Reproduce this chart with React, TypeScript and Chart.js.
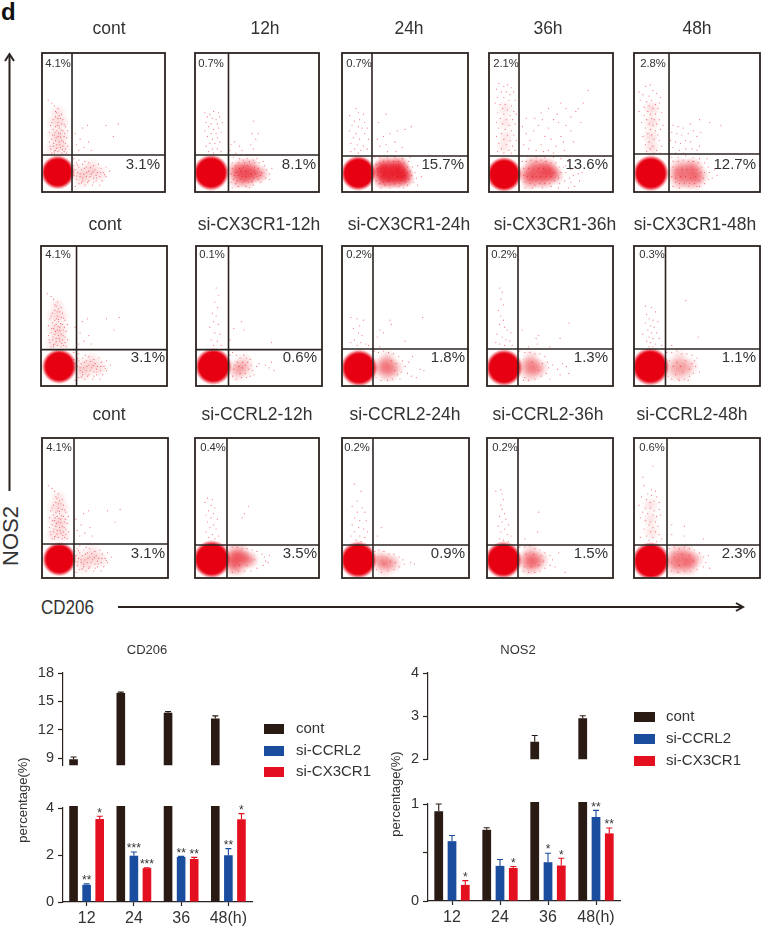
import React, { useEffect, useRef } from "react";
import { Chart, registerables } from "chart.js";
Chart.register(...registerables);

/* ---------- flow panels: values are in percent of each plot's axis range ---------- */
const TITLES = [
  ["cont", "12h", "24h", "36h", "48h"],
  ["cont", "si-CX3CR1-12h", "si-CX3CR1-24h", "si-CX3CR1-36h", "si-CX3CR1-48h"],
  ["cont", "si-CCRL2-12h", "si-CCRL2-24h", "si-CCRL2-36h", "si-CCRL2-48h"],
];
const NOS2_PCT = [
  ["4.1%", "0.7%", "0.7%", "2.1%", "2.8%"],
  ["4.1%", "0.1%", "0.2%", "0.2%", "0.3%"],
  ["4.1%", "0.4%", "0.2%", "0.2%", "0.6%"],
];
const CD206_PCT = [
  ["3.1%", "8.1%", "15.7%", "13.6%", "12.7%"],
  ["3.1%", "0.6%", "1.8%", "1.3%", "1.1%"],
  ["3.1%", "3.5%", "0.9%", "1.5%", "2.3%"],
];
const GATE_X = [
  [24.4, 27, 23.8, 24.2, 27.8],
  [28.2, 25.8, 24.6, 24.6, 25],
  [25.4, 25.8, 24.4, 24.6, 26.2],
];
const GATE_Y = [
  [26.6, 26.6, 25.9, 25.9, 27.3],
  [26, 26, 26.4, 26.4, 26.4],
  [24.3, 23.6, 23.6, 23.6, 23.6],
];
const CORE_X = [
  [12.8, 12.9, 12.9, 12.1, 13.3],
  [14.5, 13.7, 13.5, 13.5, 12.9],
  [13.7, 13.5, 12.8, 12.9, 13.3],
];
const CORE_Y = [
  [14.2, 13.9, 13.5, 12.7, 13.5],
  [14, 14, 12.9, 13.1, 13.8],
  [13.4, 13.4, 12.9, 12.9, 12.1],
];

const CONT_DOTS = [5,66,8,64,10,62,13,60,12,57,14,55,11,54,15,53,9,52,17,52,13,50,16,49,7,48,11,47,19,47,14,46,9,45,12,44,17,44,21,44,6,43,15,42,10,41,13,40,18,40,20,39,8,38,11,37,16,37,14,36,6,36,19,35,12,34,9,33,17,33,21,33,15,32,7,31,11,30,13,29,18,29,10,28,20,28,16,28,8,28,27,42,33,46,37,48,31,38,38,36,28,34,34,32,30,30,52,48,62,49,58,40,40,30,26,24,30,23,35,22,28,21,33,20,38,21,26,19,30,18,36,18,42,19,46,20,27,16,32,16,38,15,43,16,48,17,52,18,29,14,34,13,40,13,45,14,50,14,55,15,26,12,31,11,36,11,42,10,47,11,52,11,28,9,33,8,38,8,44,8,49,8,30,6,35,5,41,5,27,4,47,5,12.5,48,15.5,44.5,10.5,43,13.5,42.5,18.5,42,11.5,39,15,39.5,8.5,41,14.5,34,17.5,36,12,31.5,9.5,35,19,31,16.5,30.5,6.5,33,10,29.5,14,47.5,8,50,18,48.5,16,56,13,53,11,58,29,19.5,34.5,17,39.5,17.5,44,12,31,13,36.5,14,41.5,14.5,47.5,14,28,11.5,33,10,39,11,44.5,10,51,12.5,37,7,42,7,32,6.5];
const CONT_LOW = [30,14,38,13,46,13,33,9,40,18];
const CONT_UP = [10,50,16,50,10,41,16,41,14,36,9,31,17,31,13,57];

const H12_DOTS = [8,57,12,56,15,58,19,57,10,54,14,53,17,52,20,54,9,50,13,49,18,49,22,50,11,47,15,45,19,46,8,44,13,42,17,42,21,43,10,40,14,38,18,39,12,35,16,35,20,36,9,33,14,31,18,31,11,29,15,28,21,29,32,36,36,33,33,28,38,30,45,34,47,31,49,38,47,51,46,42,51,42,28,30,29,34,27,24,31,25,36,24,42,24,47,23,52,21,56,19,58,16,60,13,57,10,53,7,47,5,41,4,35,4,30,3,55,22,50,24,44,3,60,9,62,17,54,14,48,18,30,21,40,21,33,6,38,7,46,8,51,9,30,17,33,19,36,17,39,18,42,19,45,16,48,15,51,17,53,12,50,11,47,10,44,11,41,11,38,11,35,12,32,12,29,13,31,9,34,8,37,9,40,8,43,7,46,7,29,7,33,14,37,15,41,15,45,13,49,13,35,21,39,23,44,22,48,21];
const H12_LOW = [32,15,37,14,42,13,47,13,52,13,35,9,42,9,38,18,45,18];
const H24_DOTS = [6,55,11,60,13,57,17,56,14,52,10,51,18,50,8,48,13,47,16,46,20,46,6,44,11,42,18,42,9,39,14,38,21,38,7,35,12,34,17,33,10,31,15,30,20,31,7,29,13,28,29,50,35,56,28,38,33,40,38,42,44,44,50,45,55,47,30,33,35,34,42,36,48,32,36,29,43,29,26,25,30,25,36,25,42,25,48,24,53,22,56,18,58,14,59,10,57,7,52,5,45,4,38,3,31,3,60,19,63,11,54,25,60,5,49,3,27,20,30,21,33,22,37,22,41,22,45,22,49,21,52,18,54,15,55,12,53,9,50,7,46,6,42,6,38,5,34,5,30,6,27,8,28,12,31,11,33,12,36,11,40,12,44,11,47,11,50,12,52,14,49,16,45,17,42,16,38,16,35,17,31,17,28,17,41,8,37,8,33,7,47,8];
const H24_LOW = [29,15,34,14,39,14,44,14,49,14,32,9,38,9,44,9,33,19,40,19,46,19,50,10];
const H36_DOTS = [8,78,12,76,15,77,18,75,6,74,10,72,14,72,17,70,20,72,7,68,12,68,16,66,21,66,5,64,9,63,13,63,18,62,11,60,15,59,20,58,7,57,12,56,17,55,22,56,9,53,14,52,19,52,6,50,11,49,16,48,21,49,8,46,13,45,18,44,10,42,15,41,20,41,6,40,12,38,17,37,22,37,8,35,14,34,19,33,10,31,16,30,21,30,7,29,12,28,18,28,27,47,30,42,33,37,36,44,28,34,32,31,38,30,42,34,45,40,40,48,48,46,52,52,56,50,43,52,37,53,58,40,60,36,54,33,48,30,62,48,66,54,70,58,62,60,66,44,72,60,76,64,80,73,55,56,48,60,42,57,58,64,68,36,50,38,44,29,52,28,61,30,30,53,74,50,26,26,31,26,38,25,45,25,52,25,58,24,64,22,60,18,62,14,61,8,57,6,50,4,43,3,35,3,29,3,66,16,68,12,66,7,70,18,72,13,69,4,73,8,56,3,64,3,75,14,27,22,30,22,34,23,38,22,42,23,46,22,50,21,54,21,57,18,58,14,56,10,53,8,49,6,45,6,41,6,37,5,33,6,29,7,28,12,31,11,35,11,38,11,42,11,46,11,50,11,53,14,49,16,44,17,40,17,36,16,32,17,28,17,65,10,62,19,68,17];
const H36_LOW = [30,13,35,13,40,14,45,14,50,14,33,8,40,9,46,9,35,19,42,19,48,18,53,12];
const H36_UP = [13,60,13,50,14,40,12,33];
const H48_DOTS = [4,72,9,76,13,77,15,73,7,70,12,69,18,71,21,68,5,66,10,65,14,66,17,63,20,64,12,62,8,61,15,60,19,60,4,58,11,58,13,56,17,56,22,57,8,55,14,53,10,52,16,52,20,52,6,50,12,49,15,48,18,49,23,48,9,46,13,45,17,44,21,45,11,42,14,41,19,41,7,40,16,38,12,36,20,37,9,34,15,33,22,33,13,31,18,30,10,29,16,28,21,28,31,48,35,47,39,46,30,43,34,42,38,41,43,42,47,44,29,37,33,36,37,35,41,37,45,36,50,40,53,43,45,49,52,52,60,50,69,48,31,32,36,30,41,31,46,31,50,30,33,28,39,28,52,33,30,25,35,25,41,26,47,25,52,24,56,21,59,18,60,14,59,9,56,6,50,4,43,4,36,3,31,4,64,16,62,10,66,12,58,24,52,4,31,22,35,22,39,23,43,22,47,22,51,21,54,18,56,14,55,10,52,8,48,6,44,6,40,6,36,6,33,7,30,11,33,10,37,11,41,11,45,10,49,11,53,14,50,16,46,16,42,16,38,16,34,16,31,18];
const H48_LOW = [33,13,38,13,43,13,48,13,52,12,36,18,43,18,48,18,36,8,43,8,49,8];
const H48_UP = [14,60,14,50,13,40,14,32];

const X12_DOTS = [16,70,18,65,15,60,17,56,13,52,16,50,14,46,18,44,11,42,15,38,19,37,12,33,17,32,14,29,20,29,36,46,38,40,30,41,60,31,27,33,27,22,29,24,32,22,35,20,38,22,40,20,43,19,44,15,45,11,43,7,40,6,36,6,32,5,29,7,34,14,37,13,39,15,42,12,31,15,35,9,39,9,50,16,55,15,58,13,60,17,62,11,46,8,48,14,33,17,30,12,41,17,37,17];
const X12_LOW = [31,13,35,13,39,12,33,9,38,17];
const X24_DOTS = [7,49,12,48,17,47,14,43,9,41,13,38,16,36,10,33,15,31,19,30,12,29,21,29,7,31,28,35,30,40,33,38,38,47,39,44,64,49,50,32,30,28,26,25,29,24,33,25,37,24,41,23,45,21,48,18,50,14,47,10,44,8,40,5,36,4,31,4,27,6,52,9,55,7,59,6,62,12,65,11,53,17,46,5,56,21,43,16,39,18,42,11];
const X24_LOW = [30,14,34,15,38,14,42,13,33,10,38,9,36,19];
const X36_DOTS = [10,70,12,67,11,62,13,58,9,54,11,50,13,47,10,44,14,42,16,40,19,38,8,37,12,35,15,33,18,32,10,30,14,29,20,29,7,31,28,40,39,34,41,36,65,45,58,34,50,28,33,28,40,30,26,25,30,24,34,24,38,23,42,23,46,21,48,17,49,13,47,9,43,7,38,5,33,4,29,4,52,15,56,12,58,8,60,16,63,14,30,6,41,11,36,17,44,16,50,5,65,9];
const X36_LOW = [30,14,34,15,38,14,42,13,33,9,38,10,35,19];
const X48_DOTS = [9,57,14,56,17,53,10,51,12,48,15,47,19,46,9,45,13,43,16,42,11,40,14,38,18,38,7,37,12,35,15,34,20,34,10,32,13,31,17,30,12,28,15,28,22,29,41,61,51,35,30,29,26,24,30,24,34,25,38,23,42,23,46,22,48,18,49,14,47,9,44,7,40,5,35,5,30,5,27,7,52,10,50,20,43,4,36,4,33,8,39,10,44,12,34,17,41,18,31,14,37,14,46,16,28,18];
const X48_LOW = [30,14,35,14,40,14,44,14,33,9,39,9,36,19];

const C12_DOTS = [10,57,14,56,8,54,13,52,16,50,11,48,15,46,9,45,13,43,18,42,10,40,15,38,12,36,17,35,9,33,14,31,19,30,11,29,16,28,43,51,40,46,38,43,26,23,30,22,34,22,38,21,42,21,46,20,50,19,54,17,56,15,57,12,55,9,50,7,45,5,40,5,35,5,30,4,59,11,60,16,48,13,42,9,36,9];
const C12_LOW = [28,13,32,13,36,14,40,13,30,8,35,8,31,18,37,18,44,13];
const C24_DOTS = [10,67,15,62,12,55,8,51,16,50,12,47,18,47,10,43,14,41,19,41,8,38,13,36,17,35,10,33,20,33,7,30,14,30,18,29,11,27,15,26,31,36,28,30,26,19,29,20,33,19,37,17,41,17,45,15,48,13,49,10,45,8,41,6,36,5,31,4,27,6,54,11,57,10,33,10,38,12,42,11,28,15,35,15];
const C24_LOW = [29,11,33,11,30,14,37,12,34,7,40,10];
const C36_DOTS = [7,62,11,63,12,60,13,56,11,52,12,49,14,46,10,44,15,42,12,40,17,38,9,37,14,35,11,33,16,31,19,30,10,28,13,27,17,26,41,47,30,28,40,33,26,22,30,22,34,23,38,21,42,20,46,18,50,16,52,13,50,9,46,7,42,5,38,4,33,4,29,5,54,8,62,4,57,18,30,8,35,8,41,9,45,12,31,17,37,17,43,16];
const C36_LOW = [30,13,34,13,38,13,42,13,33,8,38,9,35,18];
const C48_DOTS = [15,80,7,72,8,66,14,63,17,62,11,60,14,59,18,58,6,58,10,56,13,54,16,55,20,54,4,52,9,50,13,50,16,48,20,49,7,47,11,46,15,45,18,44,21,45,5,43,9,41,13,40,17,40,12,38,15,36,19,37,8,35,13,33,17,33,20,31,10,30,15,29,22,28,12,27,18,26,5,29,30,38,40,37,30,31,40,30,55,28,28,21,32,22,36,21,40,22,44,21,48,20,52,18,55,15,57,11,55,8,50,6,45,5,40,5,35,4,30,5,59,16,60,7,47,12,41,10,36,9,32,15,38,17,44,16,30,11];
const C48_LOW = [30,13,35,13,40,13,44,13,48,13,32,8,38,8,44,8,34,18,41,18];
const C48_UP = [13,52,13,42,14,33];

const DOTS = [
  [CONT_DOTS, H12_DOTS, H24_DOTS, H36_DOTS, H48_DOTS],
  [CONT_DOTS, X12_DOTS, X24_DOTS, X36_DOTS, X48_DOTS],
  [CONT_DOTS, C12_DOTS, C24_DOTS, C36_DOTS, C48_DOTS],
];
const LOW_CLOUD = [
  [CONT_LOW, H12_LOW, H24_LOW, H36_LOW, H48_LOW],
  [CONT_LOW, X12_LOW, X24_LOW, X36_LOW, X48_LOW],
  [CONT_LOW, C12_LOW, C24_LOW, C36_LOW, C48_LOW],
];
const UP_CLOUD = [
  [CONT_UP, [], [], H36_UP, H48_UP],
  [CONT_UP, [], [], [], []],
  [CONT_UP, [], [], [], C48_UP],
];

/* ---------- bar charts ---------- */
const HOURS = ["12", "24", "36", "48(h)"];
const SERIES = ["cont", "si-CCRL2", "si-CX3CR1"];
const CD206_CONT = [8.9, 15.9, 13.8, 13.2];
const CD206_CCRL2 = [0.73, 1.97, 1.92, 1.99];
const CD206_CX3CR1 = [3.53, 1.44, 1.83, 3.52];
const CD206_CONT_ERR = [0.22, 0.08, 0.12, 0.27];
const CD206_CCRL2_ERR = [0.04, 0.16, 0.02, 0.28];
const CD206_CX3CR1_ERR = [0.12, 0.02, 0.07, 0.24];
const CD206_CCRL2_STARS = ["**", "***", "**", "**"];
const CD206_CX3CR1_STARS = ["*", "***", "**", "*"];
const NOS2_CONT = [0.924, 0.734, 2.405, 2.95];
const NOS2_CCRL2 = [0.617, 0.362, 0.4, 0.866];
const NOS2_CX3CR1 = [0.166, 0.341, 0.366, 0.697];
const NOS2_CONT_ERR = [0.076, 0.021, 0.145, 0.06];
const NOS2_CCRL2_ERR = [0.059, 0.066, 0.093, 0.068];
const NOS2_CX3CR1_ERR = [0.044, 0.014, 0.074, 0.055];
const NOS2_CCRL2_STARS = ["", "", "*", "**"];
const NOS2_CX3CR1_STARS = ["*", "*", "*", "**"];

/* ---------- layout and style (no data) ---------- */
const FONT = "'Liberation Sans', Arial, sans-serif";
const INK = "#2b2320";
const TEXT = "#333333";
const RED = "230,0,18";
const BAR_COLORS = ["#2a1a14", "#1b4d9f", "#e4101f"];
const BOX_L = [[42,195,342,489,634],[41,196,342,487,634],[42,195,342,487,634]];
const BOX_R = [[165,319,468,613,760],[167,322,468,613,760],[168,319,469,613,760]];
const BOX_T = [53, 246, 438];
const BOX_B = [192, 386, 578];
const TITLE_Y = [29, 225, 415];
const TITLE_X = [[109,265,409,548,697],[105,259,409,555,695],[109,257,405,548,692]];
const SMALL_Y = [64, 255, 448];
const SMALL_X = [[58,211,359,506,653],[58,212,359,504,652],[59,213,357,505,652]];
const BIG_Y = [165, 358, 554];
const BIG_R = [[160,316,464,608,756],[165,317,465,608,756],[165,317,465,608,756]];
const CORE_R = [[13.5,14.5,14,14,14.5],[14,15,15,15,15.5],[13.5,15.5,15,15,15.5]];
const LOW_ALPHA = [[0.11,0.36,0.58,0.36,0.28],[0.11,0.14,0.22,0.2,0.16],[0.11,0.3,0.18,0.24,0.26]];
const UP_ALPHA = [[0.1,0,0,0.09,0.13],[0.1,0,0,0,0],[0.1,0,0,0,0.1]];

const toPoints = (flat: number[]) => {
  const out: { x: number; y: number }[] = [];
  for (let i = 0; i < flat.length; i += 2) out.push({ x: flat[i], y: flat[i + 1] });
  return out;
};

// a soft round marker, used as a Chart.js pointStyle
function softMarker(radius: number, alpha: number, solidUntil: number) {
  const cv = document.createElement("canvas");
  const size = Math.ceil(radius * 2);
  cv.width = size;
  cv.height = size;
  const g = cv.getContext("2d") as CanvasRenderingContext2D;
  const grad = g.createRadialGradient(size / 2, size / 2, 0, size / 2, size / 2, size / 2);
  grad.addColorStop(0, `rgba(${RED},${alpha})`);
  grad.addColorStop(solidUntil, `rgba(${RED},${alpha})`);
  grad.addColorStop(1, `rgba(${RED},0)`);
  g.fillStyle = grad;
  g.fillRect(0, 0, size, size);
  return cv;
}

type TextItem = { text: string; x: number; y: number; size: number; align: CanvasTextAlign; rotate?: boolean };

const textPlugin = (items: TextItem[], left: number, top: number) => ({
  id: "pageText",
  afterDraw(chart: any) {
    const c = chart.ctx;
    items.forEach((t) => {
      c.save();
      c.translate(t.x - left, t.y - top);
      if (t.rotate) c.rotate(-Math.PI / 2);
      c.font = `${t.size}px ${FONT}`;
      c.fillStyle = TEXT;
      c.textAlign = t.align;
      c.textBaseline = "middle";
      c.fillText(t.text, 0, 0);
      c.restore();
    });
  },
});

const framePlugin = {
  id: "frame",
  afterDatasetsDraw(chart: any) {
    const { left, top, width, height } = chart.chartArea;
    chart.ctx.save();
    chart.ctx.strokeStyle = INK;
    chart.ctx.lineWidth = 1.8;
    chart.ctx.strokeRect(left, top, width, height);
    chart.ctx.restore();
  },
};

function panelConfig(r: number, c: number) {
  const L = BOX_L[r][c], R = BOX_R[r][c], T = BOX_T[r], B = BOX_B[r];
  const left = L - 12, top = TITLE_Y[r] - 14, width = R - L + 24, height = B - top + 3;
  const dot = (data: number[], fill: string, radius: number) => ({
    data: toPoints(data),
    backgroundColor: fill,
    pointRadius: radius,
    pointBorderWidth: 0,
    pointHoverRadius: radius,
  });
  const soft = (data: number[], radius: number, alpha: number, solid: number) => ({
    data: toPoints(data),
    pointStyle: softMarker(radius, alpha, solid),
    pointRadius: radius,
    pointBorderWidth: 0,
  });
  const gate = (data: { x: number; y: number }[]) => ({
    data,
    showLine: true,
    borderColor: INK,
    borderWidth: 1.6,
    pointRadius: 0,
  });
  const cx = CORE_X[r][c], cy = CORE_Y[r][c], cr = CORE_R[r][c];
  const items: TextItem[] = [
    { text: TITLES[r][c], x: TITLE_X[r][c], y: TITLE_Y[r], size: 17.5, align: "center" },
    { text: NOS2_PCT[r][c], x: SMALL_X[r][c], y: SMALL_Y[r], size: 11.3, align: "center" },
    { text: CD206_PCT[r][c], x: BIG_R[r][c], y: BIG_Y[r], size: 15, align: "right" },
  ];
  return {
    left, top, width, height,
    config: {
      type: "scatter",
      data: {
        datasets: [
          gate([{ x: GATE_X[r][c], y: 0 }, { x: GATE_X[r][c], y: 100 }]),
          gate([{ x: 0, y: GATE_Y[r][c] }, { x: 100, y: GATE_Y[r][c] }]),
          soft([cx, cy], cr + 3.5, 1, 0.78),
          dot(DOTS[r][c], `rgba(${RED},0.55)`, 0.6),
          soft(LOW_CLOUD[r][c], 10, LOW_ALPHA[r][c], 0.2),
          soft(UP_CLOUD[r][c], 9, UP_ALPHA[r][c] || 0.01, 0.2),
        ],
      },
      options: {
        responsive: false,
        animation: false,
        layout: { autoPadding: false, padding: { left: L - left, right: left + width - R, top: T - top, bottom: top + height - B } },
        plugins: { legend: { display: false }, title: { display: false }, tooltip: { enabled: false } },
        scales: {
          x: { type: "linear", min: 0, max: 100, display: false },
          y: { type: "linear", min: 0, max: 100, display: false },
        },
      },
      plugins: [framePlugin, textPlugin(items, left, top)],
    },
  };
}

type BarSpec = {
  title: string; titleX: number; axisTitleX: number; axisTitleY: number;
  left: number; axisX: number; right: number; legendRoom: number;
  swatchX: number; swatchW: number; legendTextX: number; legendY: number[];
  upTop: number; upBottom: number; upMin: number; upMax: number; upTicks: number[];
  lowTop: number; lowBottom: number; lowMax: number; lowTicks: number[]; lowLabels: number[];
  values: number[][]; errors: number[][]; stars: string[][];
};

const errorPlugin = (errors: number[][], stars: string[][] | null) => ({
  id: "errorBars",
  afterDatasetsDraw(chart: any) {
    const c = chart.ctx, y = chart.scales.y;
    chart.data.datasets.forEach((ds: any, i: number) => {
      chart.getDatasetMeta(i).data.forEach((bar: any, j: number) => {
        const v = ds.data[j];
        if (v < y.min || v > y.max) return;
        const px = bar.x, p0 = y.getPixelForValue(v), p1 = y.getPixelForValue(v + errors[i][j]);
        c.save();
        c.strokeStyle = ds.backgroundColor;
        c.lineWidth = 1.1;
        c.beginPath();
        c.moveTo(px, p0); c.lineTo(px, p1);
        c.moveTo(px - 3, p1); c.lineTo(px + 3, p1);
        c.stroke();
        if (stars && i > 0 && stars[i - 1][j]) {
          c.fillStyle = TEXT;
          c.font = `12px ${FONT}`;
          c.textAlign = "center";
          c.textBaseline = "middle";
          c.fillText(stars[i - 1][j], px, p1 - 3);
        }
        c.restore();
      });
    });
  },
});

const legendPlugin = (s: BarSpec, top: number) => ({
  id: "seriesLegend",
  afterDraw(chart: any) {
    const c = chart.ctx;
    chart.data.datasets.forEach((ds: any, i: number) => {
      const y = s.legendY[i] - top;
      c.save();
      c.fillStyle = ds.backgroundColor;
      c.fillRect(s.swatchX - s.left, y - 5, s.swatchW, 10);
      c.fillStyle = TEXT;
      c.font = `15px ${FONT}`;
      c.textAlign = "left";
      c.textBaseline = "middle";
      c.fillText(ds.label, s.legendTextX - s.left, y);
      c.restore();
    });
  },
});

function barDatasets(values: number[][], clip?: number) {
  return values.map((data, i) => ({
    label: SERIES[i],
    data,
    backgroundColor: BAR_COLORS[i],
    categoryPercentage: 0.83,
    barPercentage: 0.66,
    ...(clip ? { clip } : {}),
  }));
}

function barConfigs(s: BarSpec) {
  const axisStyle = { color: INK, width: 1.2 };
  const yBase = (ticks: number[], labels: number[], widthPx: number) => ({
    afterBuildTicks(scale: any) { scale.ticks = ticks.map((value) => ({ value })); },
    afterFit(scale: any) { scale.width = widthPx; },
    border: axisStyle,
    grid: { drawOnChartArea: false, drawTicks: true, tickLength: 5, tickColor: INK, tickWidth: 1.2 },
    ticks: {
      font: { family: FONT, size: 14.5 }, color: TEXT, padding: 4,
      autoSkip: false,
      callback: (v: number) => (labels.includes(v) ? String(v) : ""),
    },
  });

  const upCanvasTop = 636;
  const upper = {
    left: s.left, top: upCanvasTop, width: s.right - s.left + s.legendRoom, height: s.upBottom + 2 - upCanvasTop,
    config: {
      type: "bar",
      data: { labels: HOURS, datasets: barDatasets(s.values) },
      options: {
        responsive: false,
        animation: false,
        layout: { autoPadding: false, padding: { top: s.upTop - upCanvasTop, bottom: 2, right: s.legendRoom } },
        plugins: { tooltip: { enabled: false }, legend: { display: false } },
        scales: {
          x: { display: false, grid: { display: false } },
          y: { min: s.upMin, max: s.upMax, ...yBase(s.upTicks, s.upTicks, s.axisX - s.left) },
        },
      },
      plugins: [
        errorPlugin(s.errors, null),
        legendPlugin(s, upCanvasTop),
        textPlugin([{ text: s.title, x: s.titleX, y: 650, size: 13, align: "center" }], s.left, upCanvasTop),
      ],
    },
  };

  const lowTop = 745;
  const bottomRoom = 930 - s.lowBottom;
  const lower = {
    left: s.left, top: lowTop, width: s.right - s.left + 10, height: s.lowBottom + bottomRoom - lowTop,
    config: {
      type: "bar",
      data: { labels: HOURS, datasets: barDatasets(s.values, 2) },
      options: {
        responsive: false,
        animation: false,
        layout: { autoPadding: false, padding: { top: s.lowTop - lowTop, right: 10 } },
        plugins: { legend: { display: false }, tooltip: { enabled: false } },
        scales: {
          x: {
            afterFit(scale: any) { scale.height = bottomRoom; },
            border: axisStyle,
            grid: { drawOnChartArea: false, offset: false, tickLength: 4, tickColor: INK, tickWidth: 1.2 },
            ticks: { font: { family: FONT, size: 16 }, color: TEXT, padding: 3, maxRotation: 0, autoSkip: false },
          },
          y: { min: 0, max: s.lowMax, ...yBase(s.lowTicks, s.lowLabels, s.axisX - s.left) },
        },
      },
      plugins: [
        errorPlugin(s.errors, s.stars),
        textPlugin([{ text: "percentage(%)", x: s.axisTitleX, y: s.axisTitleY, size: 13, align: "center", rotate: true }], s.left, lowTop),
      ],
    },
  };
  return [upper, lower];
}

const CD206_SPEC: BarSpec = {
  title: "CD206", titleX: 147, axisTitleX: 23, axisTitleY: 800,
  left: 0, axisX: 63, right: 252, legendRoom: 128,
  swatchX: 264, swatchW: 20, legendTextX: 296, legendY: [729, 751, 772],
  upTop: 673, upBottom: 776, upMin: 8.25, upMax: 18, upTicks: [9, 12, 15, 18],
  lowTop: 808, lowBottom: 902, lowMax: 4, lowTicks: [0, 2, 4], lowLabels: [0, 2, 4],
  values: [CD206_CONT, CD206_CCRL2, CD206_CX3CR1],
  errors: [CD206_CONT_ERR, CD206_CCRL2_ERR, CD206_CX3CR1_ERR],
  stars: [CD206_CCRL2_STARS, CD206_CX3CR1_STARS],
};
const NOS2_SPEC: BarSpec = {
  title: "NOS2", titleX: 518, axisTitleX: 396, axisTitleY: 794,
  left: 380, axisX: 428, right: 620, legendRoom: 130,
  swatchX: 634, swatchW: 21, legendTextX: 666, legendY: [717, 739, 761],
  upTop: 673, upBottom: 770, upMin: 2, upMax: 4, upTicks: [2, 3, 4],
  lowTop: 804, lowBottom: 901, lowMax: 1, lowTicks: [0, 0.5, 1], lowLabels: [0, 1],
  values: [NOS2_CONT, NOS2_CCRL2, NOS2_CX3CR1],
  errors: [NOS2_CONT_ERR, NOS2_CCRL2_ERR, NOS2_CX3CR1_ERR],
  stars: [NOS2_CCRL2_STARS, NOS2_CX3CR1_STARS],
};

function ChartCanvas({ spec }: { spec: any }) {
  const ref = useRef<HTMLCanvasElement>(null);
  useEffect(() => {
    const chart = new Chart(ref.current as HTMLCanvasElement, spec.config);
    return () => chart.destroy();
  }, []);
  return (
    <canvas
      ref={ref}
      width={spec.width}
      height={spec.height}
      style={{ position: "absolute", left: spec.left, top: spec.top, width: spec.width, height: spec.height }}
    />
  );
}

const PANEL_SPECS: any[] = [];
TITLES.forEach((row, r) => row.forEach((_, c) => PANEL_SPECS.push(panelConfig(r, c))));
const BAR_SPECS = [...barConfigs(CD206_SPEC), ...barConfigs(NOS2_SPEC)];

export default function App() {
  return (
    <div style={{ position: "absolute", left: 0, top: 0, width: 762, height: 926, overflow: "hidden", background: "#fff", fontFamily: FONT, color: TEXT }}>
      <svg width={762} height={926} style={{ position: "absolute", left: 0, top: 0 }}>
        <g stroke={INK} strokeWidth={2} fill="none">
          <line x1={9.5} y1={491} x2={9.5} y2={55} />
          <polyline points="5,61 9.5,54 14,61" />
          <line x1={118} y1={607} x2={742} y2={607} />
          <polyline points="736,603 743,607 736,611" />
        </g>
      </svg>
      {PANEL_SPECS.map((s, i) => <ChartCanvas key={i} spec={s} />)}
      {BAR_SPECS.map((s, i) => <ChartCanvas key={"b" + i} spec={s} />)}
      <div style={{ position: "absolute", left: 1, top: -3, fontSize: 24, fontWeight: 700, color: "#111", lineHeight: "30px" }}>d</div>
      <div style={{ position: "absolute", left: 11, top: 536, fontSize: 22, lineHeight: "24px", transform: "translate(-50%,-50%) rotate(-90deg)" }}>NOS2</div>
      <div style={{ position: "absolute", left: 41, top: 595, fontSize: 20, lineHeight: "24px", transform: "scaleX(0.85)", transformOrigin: "left center" }}>CD206</div>
    </div>
  );
}
